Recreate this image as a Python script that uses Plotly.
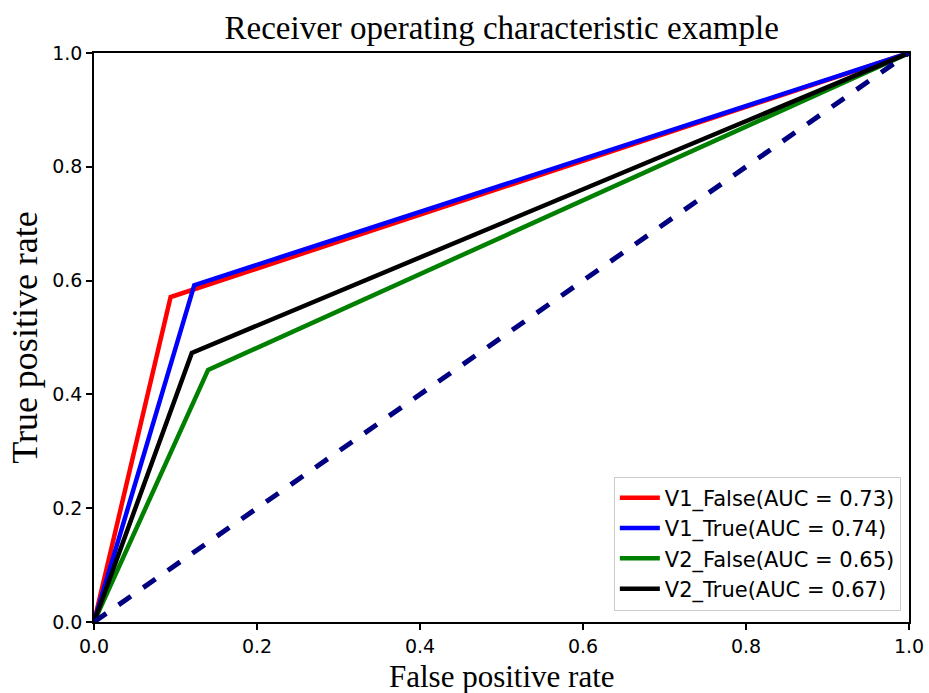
import plotly.graph_objects as go

names = ["V1_False", "V1_True", "V2_False", "V2_True"]
aucs = [0.73, 0.74, 0.65, 0.67]
colors = ["red", "blue", "green", "black"]
fpr = [[0.0, 0.094, 1.0], [0.0, 0.123, 1.0], [0.0, 0.140, 1.0], [0.0, 0.120, 1.0]]
tpr = [[0.0, 0.571, 1.0], [0.0, 0.592, 1.0], [0.0, 0.443, 1.0], [0.0, 0.473, 1.0]]
diag = [0.0, 1.0]

fig = go.Figure()
for n, a, c, x, y in zip(names, aucs, colors, fpr, tpr):
    fig.add_trace(go.Scatter(x=x, y=y, mode="lines", name=f"{n}(AUC = {a:.2f})",
                             line=dict(color=c, width=4.5)))
fig.add_trace(go.Scatter(x=diag, y=diag, mode="lines", showlegend=False,
                         line=dict(color="navy", width=5, dash="dash")))

axis_common = dict(range=[0, 1], showgrid=False, zeroline=False, showline=True,
                   linecolor="black", linewidth=1.5, mirror=True, ticks="outside",
                   ticklen=6, tickcolor="black", tickwidth=1.5, tickformat=".1f",
                   dtick=0.2, automargin=False,
                   tickfont=dict(family="DejaVu Sans", size=19, color="black"))

fig.update_layout(
    width=929, height=693,
    margin=dict(l=94, r=20, t=53, b=71),
    paper_bgcolor="white", plot_bgcolor="white",
    title=dict(text="Receiver operating characteristic example", x=0.54, xanchor="center",
               y=0.96, yanchor="middle",
               font=dict(family="Liberation Serif", size=33, color="black")),
    xaxis=dict(**axis_common),
    yaxis=dict(**axis_common, title=dict(text="True positive rate", standoff=4,
               font=dict(family="Liberation Serif", size=36, color="black"))),
    legend=dict(x=0.99, y=0.02, xanchor="right", yanchor="bottom",
                bgcolor="rgba(255,255,255,0.8)", bordercolor="#cccccc", borderwidth=1,
                font=dict(family="DejaVu Sans", size=21, color="black"),
                tracegroupgap=0, itemwidth=40),
    annotations=[dict(text="False positive rate", x=0.5, y=0, xref="paper", yref="paper",
                      xanchor="center", yanchor="top", yshift=-35, showarrow=False,
                      font=dict(family="Liberation Serif", size=31, color="black"))],
)

fig.write_html("out.html")
